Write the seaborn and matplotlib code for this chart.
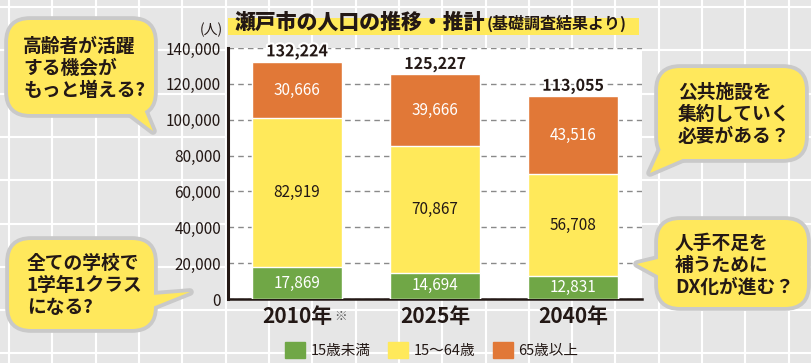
import matplotlib
matplotlib.use("Agg")
import matplotlib.pyplot as plt
import matplotlib.patheffects as pe
from matplotlib.patches import FancyBboxPatch, Polygon, Rectangle, Patch
import seaborn as sns
import pandas as pd

# data
years = ["2010年", "2025年", "2040年"]
under15 = [17869, 14694, 12831]
age15_64 = [82919, 70867, 56708]
over65 = [30666, 39666, 43516]
totals = [132224, 125227, 113055]
yticks = [0, 20000, 40000, 60000, 80000, 100000, 120000, 140000]
legend_labels = ["15歳未満", "15～64歳", "65歳以上"]

GREEN = "#70a746"
YELLOW = "#ffe95a"
ORANGE = "#e17837"
INK = "#231815"
BUB_FILL = "#ffe85c"
BUB_EDGE = "#c9c9c9"

sns.set_theme(style="white")
plt.rcParams["font.family"] = ["Noto Sans CJK JP", "DejaVu Sans"]

W, H = 812, 363
fig = plt.figure(figsize=(W / 100, H / 100), dpi=100, facecolor="#e6e6e6")

# background squared paper
bg = fig.add_axes([0, 0, 1, 1], zorder=0)
bg.set_xlim(0, W)
bg.set_ylim(H, 0)
bg.axis("off")
gx = 9.2
while gx < W:
    bg.axvline(gx, color="white", lw=1.5)
    gx += 43.3
gy = 7.0
while gy < H:
    bg.axhline(gy, color="white", lw=1.5)
    gy += 43.3

# main chart
ax = fig.add_axes([228 / W, 1 - 299 / H, (642 - 228) / W, (299 - 48) / H], zorder=1)
ax.set_facecolor("white")

df = pd.DataFrame({"year": years, "u15": under15, "mid": age15_64, "o65": over65, "total": totals})
df["low2"] = df["u15"] + df["mid"]

sns.barplot(data=df, x="year", y="total", color=ORANGE, saturation=1, width=0.65, ax=ax, zorder=2)
sns.barplot(data=df, x="year", y="low2", color=YELLOW, saturation=1, width=0.65, ax=ax, zorder=3)
sns.barplot(data=df, x="year", y="u15", color=GREEN, saturation=1, width=0.65, ax=ax, zorder=4)

ax.set_xlim(-0.5, 2.5)
ax.set_ylim(0, 140000)
ax.set_yticks(yticks)
ax.set_yticklabels([f"{v:,}" for v in yticks], fontsize=11, color=INK)
ax.set_xlabel("")
ax.set_ylabel("")
ax.set_axisbelow(True)
ax.yaxis.grid(True, ls=(0, (4, 3)), color="#8a8a8a", lw=1)
ax.xaxis.grid(False)
for s in ["top", "right"]:
    ax.spines[s].set_visible(False)
ax.spines["left"].set_color(INK)
ax.spines["left"].set_linewidth(2.2)
ax.spines["bottom"].set_color(INK)
ax.spines["bottom"].set_linewidth(1.8)
ax.tick_params(axis="y", length=0, pad=5)
ax.tick_params(axis="x", which="major", length=0, pad=5)
ax.set_xticks([0, 1, 2])
ax.set_xticklabels(years, fontsize=15, fontweight="bold", color=INK)
ax.set_xticks([0.5, 1.5, 2.5], minor=True)
ax.tick_params(axis="x", which="minor", direction="in", length=5, width=1.5, color=INK)
ax.text(0.27, -0.068, "※", transform=ax.get_xaxis_transform(), fontsize=9, color="#555555",
        ha="left", va="center", clip_on=False)

stroke = [pe.withStroke(linewidth=3, foreground="white")]
for i in range(3):
    ax.text(i, under15[i] / 2, f"{under15[i]:,}", ha="center", va="center", fontsize=11,
            color="white", zorder=6)
    ax.text(i, under15[i] + age15_64[i] / 2, f"{age15_64[i]:,}", ha="center", va="center",
            fontsize=11, color=INK, zorder=6)
    ax.text(i, under15[i] + age15_64[i] + over65[i] / 2, f"{over65[i]:,}", ha="center",
            va="center", fontsize=11, color="white", zorder=6)
    ax.text(i, totals[i] + 1200, f"{totals[i]:,}", ha="center", va="bottom", fontsize=11.5,
            fontweight="bold", color=INK, path_effects=stroke, zorder=6)

handles = [Patch(color=c) for c in [GREEN, YELLOW, ORANGE]]
fig.legend(handles, legend_labels, loc="center", bbox_to_anchor=(432 / W, 1 - 350 / H), ncol=3,
           frameon=False, fontsize=10.5, handlelength=1.35, handleheight=1.35,
           handletextpad=0.4, columnspacing=1.2, labelcolor=INK)

# overlay: title and speech bubbles
ov = fig.add_axes([0, 0, 1, 1], zorder=3)
ov.set_xlim(0, W)
ov.set_ylim(H, 0)
ov.axis("off")
ov.patch.set_alpha(0)

ov.add_patch(Rectangle((228, 18), 411, 17, color=YELLOW, lw=0))
ov.text(235, 29, "瀬戸市の人口の推移・推計", fontsize=15, fontweight="black", color=INK,
        ha="left", va="baseline")
ov.text(487, 29, "(基礎調査結果より)", fontsize=11.5, fontweight="bold", color=INK,
        ha="left", va="baseline")
ov.text(211, 30, "(人)", fontsize=10, color=INK, ha="center", va="center")


def bubble(x0, y0, x1, y1, tail, text, tx, ty):
    x0, y0, x1, y1 = x0 + 3, y0 + 3, x1 - 3, y1 - 3
    for edge in [True, False]:
        box = FancyBboxPatch((x0, y0), x1 - x0, y1 - y0,
                             boxstyle="round,pad=0,rounding_size=22",
                             facecolor=BUB_FILL,
                             edgecolor=BUB_EDGE if edge else "none",
                             lw=5.5 if edge else 0, joinstyle="round")
        tri = Polygon(tail, closed=True, facecolor=BUB_FILL,
                      edgecolor=BUB_EDGE if edge else "none",
                      lw=5.5 if edge else 0, joinstyle="round")
        ov.add_patch(box)
        ov.add_patch(tri)
    ov.text(tx, ty, text, fontsize=13.5, fontweight="bold", color=INK, ha="left", va="center",
            linespacing=1.2)


bubble(5, 17, 157, 117, [(112, 100), (140, 100), (153, 131)],
       "高齢者が活躍\nする機会が\nもっと増える?", 23, 68.5)
bubble(6, 237, 157, 332, [(140, 296), (140, 312), (190, 292)],
       "全ての学校で\n1学年1クラス\nになる?", 27, 285.5)
bubble(655, 65, 808, 162, [(665, 140), (685, 158), (650, 173)],
       "公共施設を\n集約していく\n必要がある？", 678, 114)
bubble(655, 217, 810, 310, [(670, 256), (670, 282), (637, 264)],
       "人手不足を\n補うために\nDX化が進む？", 675, 265.5)

fig.savefig("out.png", dpi=100, facecolor=fig.get_facecolor())
